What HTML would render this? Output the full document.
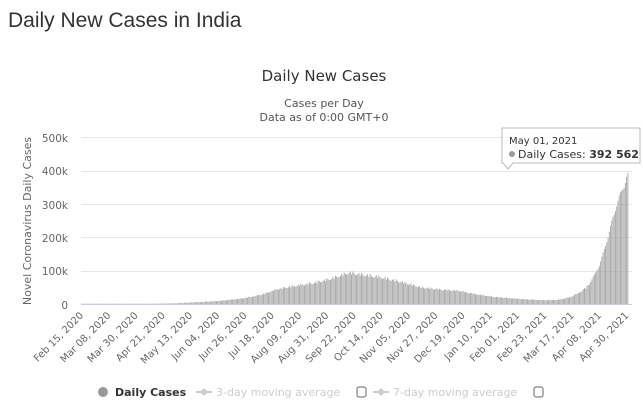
<!DOCTYPE html>
<html><head><meta charset="utf-8"><style>
html,body{margin:0;padding:0;background:#fff;width:643px;height:417px;overflow:hidden;font-family:"Liberation Sans","DejaVu Sans",sans-serif}
</style></head><body>
<svg id="s" width="643" height="417" xmlns="http://www.w3.org/2000/svg" font-family="'DejaVu Sans','Liberation Sans',sans-serif">
<text x="8" y="27" font-size="21" fill="#333" font-family="'Liberation Sans',sans-serif">Daily New Cases in India</text>
<text x="324" y="81" font-size="15" fill="#333" text-anchor="middle">Daily New Cases</text>
<text x="324" y="107" font-size="11" fill="#555" text-anchor="middle">Cases per Day</text>
<text x="324" y="121" font-size="11" fill="#555" text-anchor="middle">Data as of 0:00 GMT+0</text>
<g stroke="#e6e6e6" stroke-width="1">
<line x1="81" x2="632" y1="137.5" y2="137.5"/><line x1="81" x2="632" y1="171.5" y2="171.5"/>
<line x1="81" x2="632" y1="204.5" y2="204.5"/><line x1="81" x2="632" y1="237.5" y2="237.5"/>
<line x1="81" x2="632" y1="271.5" y2="271.5"/><line x1="81" x2="632" y1="304.5" y2="304.5" stroke="#ccd"/>
</g>
<g font-size="10.5" fill="#666" text-anchor="end">
<text x="68" y="142">500k</text><text x="68" y="175">400k</text><text x="68" y="209">300k</text>
<text x="68" y="242">200k</text><text x="68" y="275">100k</text><text x="68" y="309">0</text>
</g>
<text transform="translate(31,221) rotate(-90)" font-size="11" fill="#666" text-anchor="middle">Novel Coronavirus Daily Cases</text>
<g id="bars" fill="#a6a6a6"></g>
<g id="xl" font-size="10" fill="#666" text-anchor="end"></g>
<g>
<path d="M502,128 h138 v35 h-127 l-5,6 l-5,-6 h-1 z" fill="#fff" fill-opacity="0.9" stroke="#bbb"/>
<text x="509" y="144" font-size="10" fill="#333">May 01, 2021</text>
<circle cx="512" cy="154" r="3" fill="#999"/>
<text x="518" y="158" font-size="11" fill="#333">Daily Cases: <tspan font-weight="bold">392 562</tspan></text>
</g>
<g font-size="11">
<circle cx="103" cy="392" r="5" fill="#999"/>
<text x="115" y="396" font-weight="bold" fill="#333">Daily Cases</text>
<line x1="196" x2="212" y1="392" y2="392" stroke="#ccc" stroke-width="2"/><path d="M204,388 l4,4 l-4,4 l-4,-4z" fill="#ccc"/>
<text x="216" y="396" fill="#ccc">3-day moving average</text>
<rect x="357" y="387" width="9" height="10" rx="2" fill="none" stroke="#666"/>
<line x1="373" x2="389" y1="392" y2="392" stroke="#ccc" stroke-width="2"/><path d="M381,388 l4,4 l-4,4 l-4,-4z" fill="#ccc"/>
<text x="393" y="396" fill="#ccc">7-day moving average</text>
<rect x="534" y="387" width="9" height="10" rx="2" fill="none" stroke="#666"/>
</g>
</svg>
<script>
var k=[[0,0],[45,0],[75,2000],[90,5000],[110,9000],[130,17000],[145,28000],[158,45000],[172,55000],[186,63000],[200,75000],[210,88000],[216,95000],[225,90000],[240,82000],[255,70000],[265,60000],[275,50000],[290,44000],[305,40000],[318,30000],[332,22000],[345,18000],[360,14000],[372,11500],[385,13000],[394,20000],[402,35000],[410,60000],[418,115000],[425,200000],[429,260000],[434,320000],[438,355000],[441,392562]];
function f(d){for(var i=1;i<k.length;i++){if(d<=k[i][0]){var a=k[i-1],b=k[i];return a[1]+(b[1]-a[1])*(d-a[0])/(b[0]-a[0]);}}return 392562;}
var s="",g=document.getElementById("bars");
for(var d=0;d<=441;d++){var amp=d>405?0.02:0.06;var dip=(d%7==1&&d<410)?0.12:0;var v=f(d)*(1+amp*Math.sin(d*0.9)-dip);if(d==441)v=392562;var h=v/100000*33.4;if(h<0.3)h=0.3;var x=81+d*1.239;
s+='<rect x="'+x.toFixed(2)+'" y="'+(304-h).toFixed(2)+'" width="0.9" height="'+h.toFixed(2)+'"/>';}
g.innerHTML=s;
var L=["Feb 15, 2020","Mar 08, 2020","Mar 30, 2020","Apr 21, 2020","May 13, 2020","Jun 04, 2020","Jun 26, 2020","Jul 18, 2020","Aug 09, 2020","Aug 31, 2020","Sep 22, 2020","Oct 14, 2020","Nov 05, 2020","Nov 27, 2020","Dec 19, 2020","Jan 10, 2021","Feb 01, 2021","Feb 23, 2021","Mar 17, 2021","Apr 08, 2021","Apr 30, 2021"];
var t="";for(var i=0;i<L.length;i++){var x=84+i*22*1.239;t+='<text transform="translate('+x.toFixed(1)+',316) rotate(-45)">'+L[i]+'</text>';}
document.getElementById("xl").innerHTML=t;
</script>
</body></html>
